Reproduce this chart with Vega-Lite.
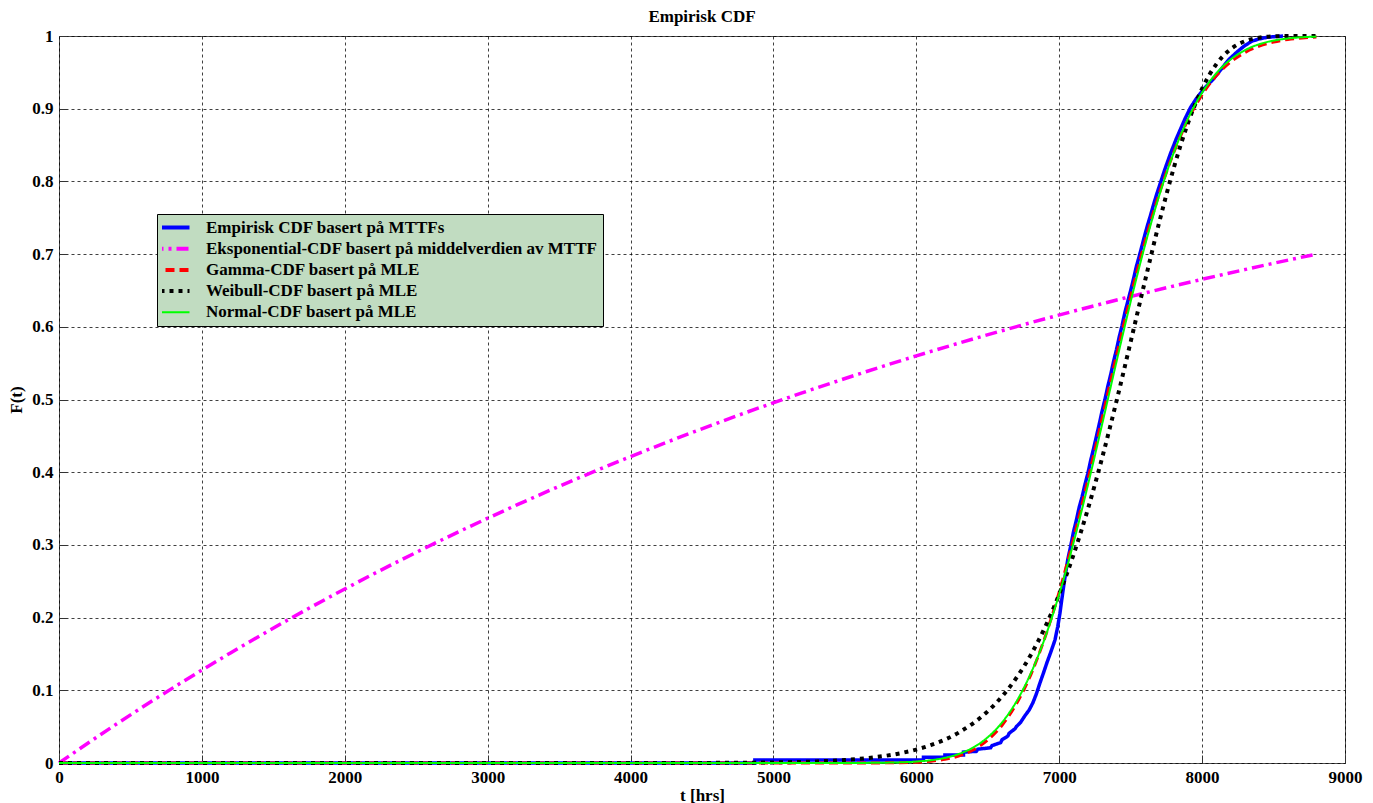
{
  "$schema": "https://vega.github.io/schema/vega-lite/v6.json",
  "width": 1286,
  "height": 727,
  "autosize": {"type": "none"},
  "padding": {"left": 59, "top": 36, "right": 28, "bottom": 40},
  "title": {"text": "Empirisk CDF", "font": "Liberation Serif", "fontSize": 17, "fontWeight": "bold", "color": "#000000", "offset": 1},
  "data": {"values": [
    {"series": "Empirisk CDF basert på MTTFs", "t": 0, "F": 0},
    {"series": "Empirisk CDF basert på MTTFs", "t": 4870, "F": 0},
    {"series": "Empirisk CDF basert på MTTFs", "t": 4870, "F": 0.004},
    {"series": "Empirisk CDF basert på MTTFs", "t": 6050, "F": 0.004},
    {"series": "Empirisk CDF basert på MTTFs", "t": 6050, "F": 0.008},
    {"series": "Empirisk CDF basert på MTTFs", "t": 6200, "F": 0.008},
    {"series": "Empirisk CDF basert på MTTFs", "t": 6200, "F": 0.011},
    {"series": "Empirisk CDF basert på MTTFs", "t": 6330, "F": 0.011},
    {"series": "Empirisk CDF basert på MTTFs", "t": 6330, "F": 0.015},
    {"series": "Empirisk CDF basert på MTTFs", "t": 6420, "F": 0.016},
    {"series": "Empirisk CDF basert på MTTFs", "t": 6430, "F": 0.019},
    {"series": "Empirisk CDF basert på MTTFs", "t": 6520, "F": 0.021},
    {"series": "Empirisk CDF basert på MTTFs", "t": 6530, "F": 0.024},
    {"series": "Empirisk CDF basert på MTTFs", "t": 6590, "F": 0.028},
    {"series": "Empirisk CDF basert på MTTFs", "t": 6600, "F": 0.032},
    {"series": "Empirisk CDF basert på MTTFs", "t": 6640, "F": 0.037},
    {"series": "Empirisk CDF basert på MTTFs", "t": 6650, "F": 0.041},
    {"series": "Empirisk CDF basert på MTTFs", "t": 6690, "F": 0.047},
    {"series": "Empirisk CDF basert på MTTFs", "t": 6700, "F": 0.05},
    {"series": "Empirisk CDF basert på MTTFs", "t": 6730, "F": 0.056},
    {"series": "Empirisk CDF basert på MTTFs", "t": 6760, "F": 0.065},
    {"series": "Empirisk CDF basert på MTTFs", "t": 6790, "F": 0.073},
    {"series": "Empirisk CDF basert på MTTFs", "t": 6816, "F": 0.083},
    {"series": "Empirisk CDF basert på MTTFs", "t": 6840, "F": 0.095},
    {"series": "Empirisk CDF basert på MTTFs", "t": 6865, "F": 0.11},
    {"series": "Empirisk CDF basert på MTTFs", "t": 6890, "F": 0.124},
    {"series": "Empirisk CDF basert på MTTFs", "t": 6914, "F": 0.138},
    {"series": "Empirisk CDF basert på MTTFs", "t": 6940, "F": 0.152},
    {"series": "Empirisk CDF basert på MTTFs", "t": 6970, "F": 0.169},
    {"series": "Empirisk CDF basert på MTTFs", "t": 6990, "F": 0.188},
    {"series": "Empirisk CDF basert på MTTFs", "t": 7005, "F": 0.206},
    {"series": "Empirisk CDF basert på MTTFs", "t": 7025, "F": 0.235},
    {"series": "Empirisk CDF basert på MTTFs", "t": 7040, "F": 0.255},
    {"series": "Empirisk CDF basert på MTTFs", "t": 7060, "F": 0.28},
    {"series": "Empirisk CDF basert på MTTFs", "t": 7080, "F": 0.298},
    {"series": "Empirisk CDF basert på MTTFs", "t": 7100, "F": 0.318},
    {"series": "Empirisk CDF basert på MTTFs", "t": 7120, "F": 0.334},
    {"series": "Empirisk CDF basert på MTTFs", "t": 7140, "F": 0.352},
    {"series": "Empirisk CDF basert på MTTFs", "t": 7160, "F": 0.366},
    {"series": "Empirisk CDF basert på MTTFs", "t": 7180, "F": 0.383},
    {"series": "Empirisk CDF basert på MTTFs", "t": 7200, "F": 0.398},
    {"series": "Empirisk CDF basert på MTTFs", "t": 7220, "F": 0.416},
    {"series": "Empirisk CDF basert på MTTFs", "t": 7240, "F": 0.432},
    {"series": "Empirisk CDF basert på MTTFs", "t": 7260, "F": 0.449},
    {"series": "Empirisk CDF basert på MTTFs", "t": 7280, "F": 0.466},
    {"series": "Empirisk CDF basert på MTTFs", "t": 7300, "F": 0.484},
    {"series": "Empirisk CDF basert på MTTFs", "t": 7320, "F": 0.5},
    {"series": "Empirisk CDF basert på MTTFs", "t": 7340, "F": 0.518},
    {"series": "Empirisk CDF basert på MTTFs", "t": 7360, "F": 0.534},
    {"series": "Empirisk CDF basert på MTTFs", "t": 7380, "F": 0.552},
    {"series": "Empirisk CDF basert på MTTFs", "t": 7400, "F": 0.568},
    {"series": "Empirisk CDF basert på MTTFs", "t": 7420, "F": 0.586},
    {"series": "Empirisk CDF basert på MTTFs", "t": 7440, "F": 0.602},
    {"series": "Empirisk CDF basert på MTTFs", "t": 7460, "F": 0.62},
    {"series": "Empirisk CDF basert på MTTFs", "t": 7480, "F": 0.635},
    {"series": "Empirisk CDF basert på MTTFs", "t": 7500, "F": 0.65},
    {"series": "Empirisk CDF basert på MTTFs", "t": 7520, "F": 0.666},
    {"series": "Empirisk CDF basert på MTTFs", "t": 7540, "F": 0.683},
    {"series": "Empirisk CDF basert på MTTFs", "t": 7560, "F": 0.697},
    {"series": "Empirisk CDF basert på MTTFs", "t": 7580, "F": 0.712},
    {"series": "Empirisk CDF basert på MTTFs", "t": 7600, "F": 0.727},
    {"series": "Empirisk CDF basert på MTTFs", "t": 7620, "F": 0.741},
    {"series": "Empirisk CDF basert på MTTFs", "t": 7640, "F": 0.754},
    {"series": "Empirisk CDF basert på MTTFs", "t": 7660, "F": 0.768},
    {"series": "Empirisk CDF basert på MTTFs", "t": 7680, "F": 0.781},
    {"series": "Empirisk CDF basert på MTTFs", "t": 7700, "F": 0.793},
    {"series": "Empirisk CDF basert på MTTFs", "t": 7720, "F": 0.805},
    {"series": "Empirisk CDF basert på MTTFs", "t": 7740, "F": 0.817},
    {"series": "Empirisk CDF basert på MTTFs", "t": 7760, "F": 0.828},
    {"series": "Empirisk CDF basert på MTTFs", "t": 7780, "F": 0.839},
    {"series": "Empirisk CDF basert på MTTFs", "t": 7800, "F": 0.849},
    {"series": "Empirisk CDF basert på MTTFs", "t": 7820, "F": 0.859},
    {"series": "Empirisk CDF basert på MTTFs", "t": 7840, "F": 0.868},
    {"series": "Empirisk CDF basert på MTTFs", "t": 7860, "F": 0.877},
    {"series": "Empirisk CDF basert på MTTFs", "t": 7880, "F": 0.886},
    {"series": "Empirisk CDF basert på MTTFs", "t": 7900, "F": 0.894},
    {"series": "Empirisk CDF basert på MTTFs", "t": 7920, "F": 0.902},
    {"series": "Empirisk CDF basert på MTTFs", "t": 7940, "F": 0.908},
    {"series": "Empirisk CDF basert på MTTFs", "t": 7960, "F": 0.914},
    {"series": "Empirisk CDF basert på MTTFs", "t": 7980, "F": 0.919},
    {"series": "Empirisk CDF basert på MTTFs", "t": 8000, "F": 0.924},
    {"series": "Empirisk CDF basert på MTTFs", "t": 8020, "F": 0.929},
    {"series": "Empirisk CDF basert på MTTFs", "t": 8040, "F": 0.933},
    {"series": "Empirisk CDF basert på MTTFs", "t": 8060, "F": 0.937},
    {"series": "Empirisk CDF basert på MTTFs", "t": 8080, "F": 0.941},
    {"series": "Empirisk CDF basert på MTTFs", "t": 8100, "F": 0.946},
    {"series": "Empirisk CDF basert på MTTFs", "t": 8120, "F": 0.951},
    {"series": "Empirisk CDF basert på MTTFs", "t": 8140, "F": 0.956},
    {"series": "Empirisk CDF basert på MTTFs", "t": 8160, "F": 0.961},
    {"series": "Empirisk CDF basert på MTTFs", "t": 8180, "F": 0.966},
    {"series": "Empirisk CDF basert på MTTFs", "t": 8200, "F": 0.97},
    {"series": "Empirisk CDF basert på MTTFs", "t": 8250, "F": 0.979},
    {"series": "Empirisk CDF basert på MTTFs", "t": 8300, "F": 0.987},
    {"series": "Empirisk CDF basert på MTTFs", "t": 8350, "F": 0.993},
    {"series": "Empirisk CDF basert på MTTFs", "t": 8400, "F": 0.996},
    {"series": "Empirisk CDF basert på MTTFs", "t": 8450, "F": 0.998},
    {"series": "Empirisk CDF basert på MTTFs", "t": 8500, "F": 0.999},
    {"series": "Empirisk CDF basert på MTTFs", "t": 8566, "F": 1.0},

    {"series": "Eksponential-CDF basert på middelverdien av MTTF", "t": 0, "F": 0},
    {"series": "Eksponential-CDF basert på middelverdien av MTTF", "t": 400, "F": 0.0533},
    {"series": "Eksponential-CDF basert på middelverdien av MTTF", "t": 800, "F": 0.1037},
    {"series": "Eksponential-CDF basert på middelverdien av MTTF", "t": 1200, "F": 0.1514},
    {"series": "Eksponential-CDF basert på middelverdien av MTTF", "t": 1600, "F": 0.1966},
    {"series": "Eksponential-CDF basert på middelverdien av MTTF", "t": 2000, "F": 0.2394},
    {"series": "Eksponential-CDF basert på middelverdien av MTTF", "t": 2400, "F": 0.2799},
    {"series": "Eksponential-CDF basert på middelverdien av MTTF", "t": 2800, "F": 0.3183},
    {"series": "Eksponential-CDF basert på middelverdien av MTTF", "t": 3200, "F": 0.3546},
    {"series": "Eksponential-CDF basert på middelverdien av MTTF", "t": 3600, "F": 0.389},
    {"series": "Eksponential-CDF basert på middelverdien av MTTF", "t": 4000, "F": 0.4215},
    {"series": "Eksponential-CDF basert på middelverdien av MTTF", "t": 4400, "F": 0.4523},
    {"series": "Eksponential-CDF basert på middelverdien av MTTF", "t": 4800, "F": 0.4815},
    {"series": "Eksponential-CDF basert på middelverdien av MTTF", "t": 5200, "F": 0.5091},
    {"series": "Eksponential-CDF basert på middelverdien av MTTF", "t": 5600, "F": 0.5352},
    {"series": "Eksponential-CDF basert på middelverdien av MTTF", "t": 6000, "F": 0.56},
    {"series": "Eksponential-CDF basert på middelverdien av MTTF", "t": 6400, "F": 0.5834},
    {"series": "Eksponential-CDF basert på middelverdien av MTTF", "t": 6800, "F": 0.6056},
    {"series": "Eksponential-CDF basert på middelverdien av MTTF", "t": 7200, "F": 0.6266},
    {"series": "Eksponential-CDF basert på middelverdien av MTTF", "t": 7600, "F": 0.6465},
    {"series": "Eksponential-CDF basert på middelverdien av MTTF", "t": 8000, "F": 0.6653},
    {"series": "Eksponential-CDF basert på middelverdien av MTTF", "t": 8400, "F": 0.6831},
    {"series": "Eksponential-CDF basert på middelverdien av MTTF", "t": 8800, "F": 0.7},

    {"series": "Gamma-CDF basert på MLE", "t": 0, "F": 0},
    {"series": "Gamma-CDF basert på MLE", "t": 5000, "F": 0},
    {"series": "Gamma-CDF basert på MLE", "t": 5500, "F": 0},
    {"series": "Gamma-CDF basert på MLE", "t": 5800, "F": 0.0002},
    {"series": "Gamma-CDF basert på MLE", "t": 6000, "F": 0.0011},
    {"series": "Gamma-CDF basert på MLE", "t": 6100, "F": 0.0025},
    {"series": "Gamma-CDF basert på MLE", "t": 6200, "F": 0.0051},
    {"series": "Gamma-CDF basert på MLE", "t": 6300, "F": 0.0099},
    {"series": "Gamma-CDF basert på MLE", "t": 6400, "F": 0.0182},
    {"series": "Gamma-CDF basert på MLE", "t": 6500, "F": 0.0316},
    {"series": "Gamma-CDF basert på MLE", "t": 6600, "F": 0.052},
    {"series": "Gamma-CDF basert på MLE", "t": 6700, "F": 0.0812},
    {"series": "Gamma-CDF basert på MLE", "t": 6800, "F": 0.121},
    {"series": "Gamma-CDF basert på MLE", "t": 6900, "F": 0.1726},
    {"series": "Gamma-CDF basert på MLE", "t": 7000, "F": 0.2354},
    {"series": "Gamma-CDF basert på MLE", "t": 7100, "F": 0.3085},
    {"series": "Gamma-CDF basert på MLE", "t": 7200, "F": 0.389},
    {"series": "Gamma-CDF basert på MLE", "t": 7300, "F": 0.4741},
    {"series": "Gamma-CDF basert på MLE", "t": 7400, "F": 0.5598},
    {"series": "Gamma-CDF basert på MLE", "t": 7500, "F": 0.6419},
    {"series": "Gamma-CDF basert på MLE", "t": 7600, "F": 0.7171},
    {"series": "Gamma-CDF basert på MLE", "t": 7700, "F": 0.7833},
    {"series": "Gamma-CDF basert på MLE", "t": 7800, "F": 0.8391},
    {"series": "Gamma-CDF basert på MLE", "t": 7900, "F": 0.8842},
    {"series": "Gamma-CDF basert på MLE", "t": 8000, "F": 0.9193},
    {"series": "Gamma-CDF basert på MLE", "t": 8100, "F": 0.9455},
    {"series": "Gamma-CDF basert på MLE", "t": 8200, "F": 0.9643},
    {"series": "Gamma-CDF basert på MLE", "t": 8300, "F": 0.9773},
    {"series": "Gamma-CDF basert på MLE", "t": 8400, "F": 0.9861},
    {"series": "Gamma-CDF basert på MLE", "t": 8500, "F": 0.9917},
    {"series": "Gamma-CDF basert på MLE", "t": 8600, "F": 0.9952},
    {"series": "Gamma-CDF basert på MLE", "t": 8700, "F": 0.9973},
    {"series": "Gamma-CDF basert på MLE", "t": 8800, "F": 0.9985},

    {"series": "Weibull-CDF basert på MLE", "t": 0, "F": 0},
    {"series": "Weibull-CDF basert på MLE", "t": 3000, "F": 0},
    {"series": "Weibull-CDF basert på MLE", "t": 4000, "F": 0.00002},
    {"series": "Weibull-CDF basert på MLE", "t": 4500, "F": 0.00013},
    {"series": "Weibull-CDF basert på MLE", "t": 5000, "F": 0.0008},
    {"series": "Weibull-CDF basert på MLE", "t": 5300, "F": 0.0022},
    {"series": "Weibull-CDF basert på MLE", "t": 5500, "F": 0.0042},
    {"series": "Weibull-CDF basert på MLE", "t": 5700, "F": 0.0077},
    {"series": "Weibull-CDF basert på MLE", "t": 5900, "F": 0.0139},
    {"series": "Weibull-CDF basert på MLE", "t": 6100, "F": 0.0245},
    {"series": "Weibull-CDF basert på MLE", "t": 6300, "F": 0.0422},
    {"series": "Weibull-CDF basert på MLE", "t": 6500, "F": 0.0712},
    {"series": "Weibull-CDF basert på MLE", "t": 6600, "F": 0.0916},
    {"series": "Weibull-CDF basert på MLE", "t": 6700, "F": 0.117},
    {"series": "Weibull-CDF basert på MLE", "t": 6800, "F": 0.1483},
    {"series": "Weibull-CDF basert på MLE", "t": 6900, "F": 0.1865},
    {"series": "Weibull-CDF basert på MLE", "t": 7000, "F": 0.2323},
    {"series": "Weibull-CDF basert på MLE", "t": 7100, "F": 0.2864},
    {"series": "Weibull-CDF basert på MLE", "t": 7200, "F": 0.3489},
    {"series": "Weibull-CDF basert på MLE", "t": 7300, "F": 0.4196},
    {"series": "Weibull-CDF basert på MLE", "t": 7400, "F": 0.4971},
    {"series": "Weibull-CDF basert på MLE", "t": 7500, "F": 0.5794},
    {"series": "Weibull-CDF basert på MLE", "t": 7600, "F": 0.6629},
    {"series": "Weibull-CDF basert på MLE", "t": 7700, "F": 0.7438},
    {"series": "Weibull-CDF basert på MLE", "t": 7800, "F": 0.8174},
    {"series": "Weibull-CDF basert på MLE", "t": 7900, "F": 0.8796},
    {"series": "Weibull-CDF basert på MLE", "t": 8000, "F": 0.9278},
    {"series": "Weibull-CDF basert på MLE", "t": 8100, "F": 0.9614},
    {"series": "Weibull-CDF basert på MLE", "t": 8200, "F": 0.982},
    {"series": "Weibull-CDF basert på MLE", "t": 8300, "F": 0.9929},
    {"series": "Weibull-CDF basert på MLE", "t": 8400, "F": 0.9977},
    {"series": "Weibull-CDF basert på MLE", "t": 8500, "F": 0.9994},
    {"series": "Weibull-CDF basert på MLE", "t": 8600, "F": 0.9999},
    {"series": "Weibull-CDF basert på MLE", "t": 8800, "F": 1},

    {"series": "Normal-CDF basert på MLE", "t": 0, "F": 0},
    {"series": "Normal-CDF basert på MLE", "t": 5000, "F": 0},
    {"series": "Normal-CDF basert på MLE", "t": 5500, "F": 0.00004},
    {"series": "Normal-CDF basert på MLE", "t": 5800, "F": 0.0005},
    {"series": "Normal-CDF basert på MLE", "t": 6000, "F": 0.002},
    {"series": "Normal-CDF basert på MLE", "t": 6100, "F": 0.0038},
    {"series": "Normal-CDF basert på MLE", "t": 6200, "F": 0.0071},
    {"series": "Normal-CDF basert på MLE", "t": 6300, "F": 0.0127},
    {"series": "Normal-CDF basert på MLE", "t": 6400, "F": 0.0216},
    {"series": "Normal-CDF basert på MLE", "t": 6500, "F": 0.0355},
    {"series": "Normal-CDF basert på MLE", "t": 6600, "F": 0.0558},
    {"series": "Normal-CDF basert på MLE", "t": 6700, "F": 0.0844},
    {"series": "Normal-CDF basert på MLE", "t": 6800, "F": 0.1228},
    {"series": "Normal-CDF basert på MLE", "t": 6900, "F": 0.172},
    {"series": "Normal-CDF basert på MLE", "t": 7000, "F": 0.2323},
    {"series": "Normal-CDF basert på MLE", "t": 7100, "F": 0.3029},
    {"series": "Normal-CDF basert på MLE", "t": 7200, "F": 0.3817},
    {"series": "Normal-CDF basert på MLE", "t": 7300, "F": 0.4657},
    {"series": "Normal-CDF basert på MLE", "t": 7400, "F": 0.5513},
    {"series": "Normal-CDF basert på MLE", "t": 7500, "F": 0.6346},
    {"series": "Normal-CDF basert på MLE", "t": 7600, "F": 0.7119},
    {"series": "Normal-CDF basert på MLE", "t": 7700, "F": 0.7806},
    {"series": "Normal-CDF basert på MLE", "t": 7800, "F": 0.8387},
    {"series": "Normal-CDF basert på MLE", "t": 7900, "F": 0.8857},
    {"series": "Normal-CDF basert på MLE", "t": 8000, "F": 0.9221},
    {"series": "Normal-CDF basert på MLE", "t": 8100, "F": 0.9489},
    {"series": "Normal-CDF basert på MLE", "t": 8200, "F": 0.9678},
    {"series": "Normal-CDF basert på MLE", "t": 8300, "F": 0.9805},
    {"series": "Normal-CDF basert på MLE", "t": 8400, "F": 0.9887},
    {"series": "Normal-CDF basert på MLE", "t": 8500, "F": 0.9937},
    {"series": "Normal-CDF basert på MLE", "t": 8600, "F": 0.9966},
    {"series": "Normal-CDF basert på MLE", "t": 8700, "F": 0.9983},
    {"series": "Normal-CDF basert på MLE", "t": 8800, "F": 0.9992}
  ]},
  "encoding": {
    "x": {"field": "t", "type": "quantitative", "scale": {"domain": [0, 9000], "nice": false, "zero": false},
          "axis": {"title": "t [hrs]", "values": [0,1000,2000,3000,4000,5000,6000,7000,8000,9000], "format": "d", "labelFlush": false, "labelOverlap": false, "titlePadding": 2}},
    "y": {"field": "F", "type": "quantitative", "scale": {"domain": [0, 1], "nice": false},
          "axis": {"title": "F(t)", "values": [0,0.1,0.2,0.3,0.4,0.5,0.6,0.7,0.8,0.9,1], "format": "~g", "labelFlush": false, "labelOverlap": false, "titlePadding": 6}},
    "color": {"field": "series", "type": "nominal",
      "scale": {"domain": ["Empirisk CDF basert på MTTFs", "Eksponential-CDF basert på middelverdien av MTTF", "Gamma-CDF basert på MLE", "Weibull-CDF basert på MLE", "Normal-CDF basert på MLE"],
                "range": ["#0000ff", "#ff00ff", "#ff0000", "#000000", "#00ff00"]},
      "legend": {"encode": {"symbols": {"update": {"strokeWidth": {"signal": "datum.value === 'Normal-CDF basert på MLE' ? 2 : 4"}}}}}},
    "strokeDash": {"field": "series", "type": "nominal",
      "scale": {"domain": ["Empirisk CDF basert på MTTFs", "Eksponential-CDF basert på middelverdien av MTTF", "Gamma-CDF basert på MLE", "Weibull-CDF basert på MLE", "Normal-CDF basert på MLE"],
                "range": [[1, 0], [12, 5, 3, 5], [9, 5], [4, 5], [1, 0]]}}
  },
  "layer": [
    {"transform": [{"filter": "datum.series === 'Empirisk CDF basert på MTTFs'"}],
     "mark": {"type": "line", "interpolate": "linear", "strokeWidth": 3.5}},
    {"transform": [{"filter": "datum.series === 'Eksponential-CDF basert på middelverdien av MTTF'"}],
     "mark": {"type": "line", "interpolate": "monotone", "strokeWidth": 3.5}},
    {"transform": [{"filter": "datum.series === 'Gamma-CDF basert på MLE'"}],
     "mark": {"type": "line", "interpolate": "monotone", "strokeWidth": 3}},
    {"transform": [{"filter": "datum.series === 'Weibull-CDF basert på MLE'"}],
     "mark": {"type": "line", "interpolate": "monotone", "strokeWidth": 4}},
    {"transform": [{"filter": "datum.series === 'Normal-CDF basert på MLE'"}],
     "mark": {"type": "line", "interpolate": "monotone", "strokeWidth": 2}}
  ],
  "config": {
    "background": "#ffffff",
    "view": {"stroke": "#4d4d4d", "strokeWidth": 1},
    "axis": {
      "labelFont": "Liberation Serif", "labelFontSize": 17, "labelFontWeight": "bold", "labelColor": "#000000",
      "titleFont": "Liberation Serif", "titleFontSize": 17, "titleFontWeight": "bold", "titleColor": "#000000",
      "domain": false, "grid": true, "gridColor": "#000000", "gridDash": [3, 3], "gridOpacity": 0.75, "gridWidth": 1,
      "ticks": true, "tickColor": "#333333", "tickSize": -8, "labelPadding": 14
    },
    "legend": {
      "orient": "none", "legendX": 98, "legendY": 178, "title": null,
      "fillColor": "#c1dcc1", "strokeColor": "#000000", "padding": 5,
      "symbolType": "stroke", "symbolSize": 1444, "symbolStrokeWidth": 4, "clipHeight": 17, "rowPadding": 3.2,
      "labelOffset": 27, "labelFont": "Liberation Serif", "labelFontSize": 17, "labelFontWeight": "bold", "labelColor": "#000000", "labelLimit": 0
    }
  }
}
